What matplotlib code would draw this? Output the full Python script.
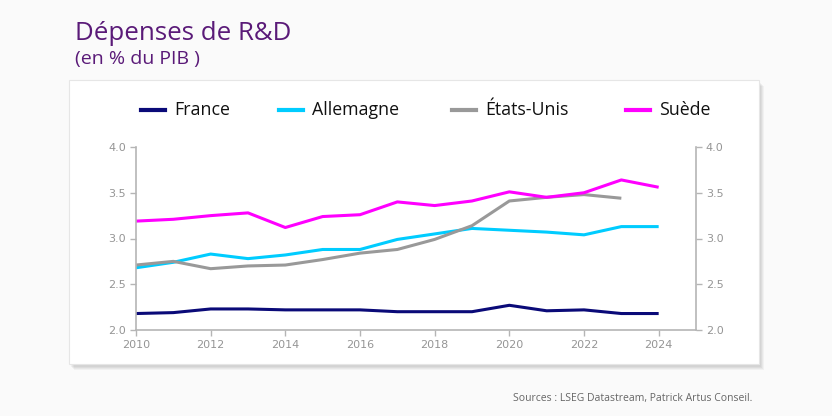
import matplotlib
matplotlib.use("Agg")
import matplotlib.pyplot as plt
from matplotlib.patches import Rectangle
from matplotlib.lines import Line2D

years = list(range(2010, 2025))
france = [2.18, 2.19, 2.23, 2.23, 2.22, 2.22, 2.22, 2.20, 2.20, 2.20, 2.27, 2.21, 2.22, 2.18, 2.18]
allemagne = [2.68, 2.74, 2.83, 2.78, 2.82, 2.88, 2.88, 2.99, 3.05, 3.11, 3.09, 3.07, 3.04, 3.13, 3.13]
usa_years = list(range(2010, 2024))
etats_unis = [2.71, 2.75, 2.67, 2.70, 2.71, 2.77, 2.84, 2.88, 2.99, 3.14, 3.41, 3.45, 3.48, 3.44]
suede = [3.19, 3.21, 3.25, 3.28, 3.12, 3.24, 3.26, 3.40, 3.36, 3.41, 3.51, 3.45, 3.50, 3.64, 3.56]

xticks = list(range(2010, 2025, 2))
yticks = [2.0, 2.5, 3.0, 3.5, 4.0]

W, H = 832, 416
fig = plt.figure(figsize=(W / 100, H / 100), dpi=100)
fig.patch.set_facecolor("#fafafa")

# panel shadow + panel
for i, a in enumerate([0.045, 0.045, 0.04, 0.035]):
    fig.patches.append(Rectangle(((69 + 2 + i) / W, 1 - (364 + 3 + i) / H), (690) / W, (284) / H,
                                 transform=fig.transFigure, facecolor="#000000", alpha=a,
                                 edgecolor="none", zorder=0))
fig.patches.append(Rectangle((69 / W, 1 - 364 / H), 690 / W, 284 / H, transform=fig.transFigure,
                             facecolor="white", edgecolor="#e6e6e6", linewidth=0.8, zorder=1))

fig.text(75 / W, 1 - 33 / H, "Dépenses de R&D", fontsize=18.6, color="#5a1a78",
         family="Open Sans", va="center", ha="left")
fig.text(75 / W, 1 - 59 / H, "(en % du PIB )", fontsize=14, color="#5a1a78",
         family="Open Sans", va="center", ha="left")
fig.text(752 / W, 1 - 399 / H, "Sources : LSEG Datastream, Patrick Artus Conseil.", fontsize=7.5,
         color="#666666", family="Open Sans", va="center", ha="right")

ax = fig.add_axes([136 / W, 1 - 330 / H, (696 - 136) / W, (330 - 147) / H])
ax.set_facecolor("none")
ax.set_zorder(3)

ax.plot(years, france, color="#0a0a78", lw=2.2, solid_capstyle="butt", label="France")
ax.plot(years, allemagne, color="#00ccff", lw=2.2, solid_capstyle="butt", label="Allemagne")
ax.plot(usa_years, etats_unis, color="#999999", lw=2.2, solid_capstyle="butt", label="États-Unis")
ax.plot(years, suede, color="#ff00ff", lw=2.2, solid_capstyle="butt", label="Suède")

ax.set_xlim(2010, 2025)
ax.set_ylim(2.0, 4.0)
ax.set_xticks(xticks)
ax.set_xticklabels([str(x) for x in xticks])
ax.set_yticks(yticks)
ax.set_yticklabels([f"{v:.1f}" for v in yticks])

spc = "#b5b5b5"
for s in ["top"]:
    ax.spines[s].set_visible(False)
for s in ["left", "right", "bottom"]:
    ax.spines[s].set_color(spc)
    ax.spines[s].set_linewidth(1.2)

ax.tick_params(axis="both", colors=spc, labelcolor="#959595", labelsize=8, length=4, width=1)
ax.tick_params(axis="y", left=True, right=True, labelleft=True, labelright=True, pad=3)
ax.tick_params(axis="x", pad=3)
for lab in ax.get_xticklabels() + ax.get_yticklabels():
    lab.set_family("DejaVu Sans")

colors = ["#0a0a78", "#00ccff", "#999999", "#ff00ff"]
labels = ["France", "Allemagne", "États-Unis", "Suède"]
leg_x = [141, 279, 452, 626]
for c, l, x in zip(colors, labels, leg_x):
    fig.lines.append(Line2D([x / W, (x + 24) / W], [1 - 110 / H, 1 - 110 / H], color=c,
                            lw=3, transform=fig.transFigure, zorder=4))
    fig.text((x + 33) / W, 1 - 110 / H, l, fontsize=12.8, color="#111111", family="Open Sans",
             va="center", ha="left", zorder=4)

fig.savefig("out.png", dpi=100, facecolor=fig.get_facecolor())
